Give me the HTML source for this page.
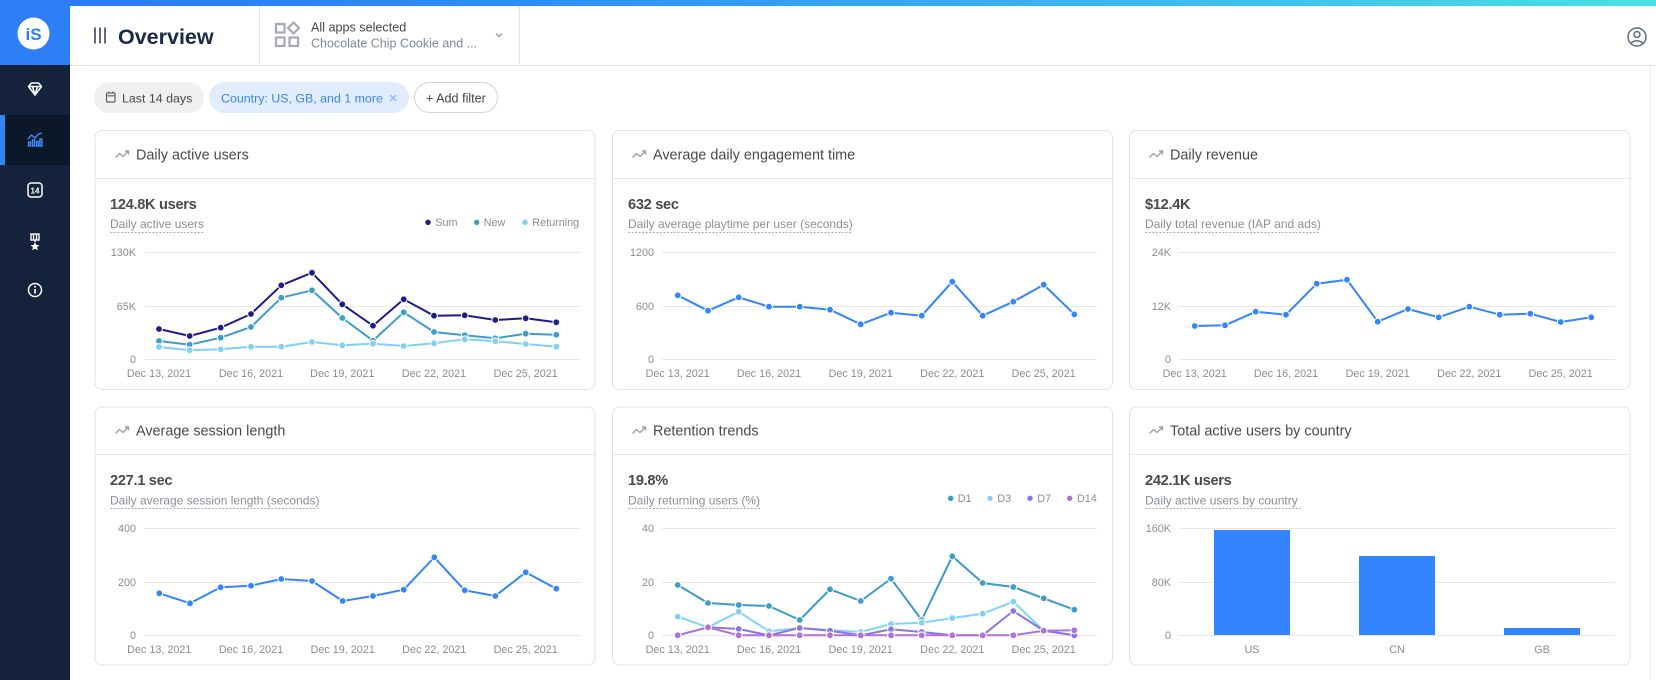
<!DOCTYPE html>
<html><head><meta charset="utf-8"><style>
html,body{margin:0;padding:0;background:#fff;width:1656px;height:680px;overflow:hidden}
svg{display:block}
text{font-family:"Liberation Sans",Arial,sans-serif}
</style></head><body>
<svg width="1656" height="680" viewBox="0 0 1656 680" xmlns="http://www.w3.org/2000/svg">
<defs>
<linearGradient id="tg" x1="0" y1="0" x2="1" y2="0">
<stop offset="0" stop-color="#2a78f5"/><stop offset="0.33" stop-color="#2f8ff5"/><stop offset="0.66" stop-color="#3ab6ee"/><stop offset="1" stop-color="#4be0e4"/>
</linearGradient>
<marker id="mB" markerWidth="10" markerHeight="10" refX="5" refY="5" markerUnits="userSpaceOnUse"><circle cx="5" cy="5" r="3.4" fill="#3385ff" stroke="#fff" stroke-width="1"/></marker>
<marker id="mS" markerWidth="10" markerHeight="10" refX="5" refY="5" markerUnits="userSpaceOnUse"><circle cx="5" cy="5" r="3.4" fill="#1c1c8c" stroke="#fff" stroke-width="1"/></marker>
<marker id="mN" markerWidth="10" markerHeight="10" refX="5" refY="5" markerUnits="userSpaceOnUse"><circle cx="5" cy="5" r="3.4" fill="#3d9dca" stroke="#fff" stroke-width="1"/></marker>
<marker id="mR" markerWidth="10" markerHeight="10" refX="5" refY="5" markerUnits="userSpaceOnUse"><circle cx="5" cy="5" r="3.4" fill="#7fd0f7" stroke="#fff" stroke-width="1"/></marker>
<marker id="m7" markerWidth="10" markerHeight="10" refX="5" refY="5" markerUnits="userSpaceOnUse"><circle cx="5" cy="5" r="3.4" fill="#8c74e8" stroke="#fff" stroke-width="1"/></marker>
<marker id="m14" markerWidth="10" markerHeight="10" refX="5" refY="5" markerUnits="userSpaceOnUse"><circle cx="5" cy="5" r="3.4" fill="#b171dc" stroke="#fff" stroke-width="1"/></marker>
</defs>

<!-- top gradient & header -->
<rect x="0" y="0" width="1656" height="6" fill="url(#tg)"/>
<line x1="70" y1="65.5" x2="1656" y2="65.5" stroke="#e4e4e4" stroke-width="1"/>
<line x1="259.5" y1="6" x2="259.5" y2="66" stroke="#e6e6e6"/>
<line x1="519.5" y1="6" x2="519.5" y2="66" stroke="#e6e6e6"/>
<line x1="1650.5" y1="66" x2="1650.5" y2="680" stroke="#ebebeb"/>

<!-- sidebar -->
<rect x="0" y="0" width="70" height="680" fill="#14233b"/>
<rect x="0" y="0" width="70" height="65" fill="#2e7ff6"/>
<circle cx="33.5" cy="33.5" r="16" fill="#fff"/>
<text x="33.5" y="40" font-size="17" font-weight="bold" fill="#2e7ff6" text-anchor="middle">iS</text>
<rect x="0" y="115" width="70" height="50" fill="#0c1729"/>
<rect x="0" y="115" width="5" height="50" fill="#2f86f5"/>
<!-- diamond -->
<g fill="none" stroke="#fff" stroke-width="1.5" stroke-linejoin="round">
<polygon points="28.5,86.5 31.5,83 38.5,83 41.5,86.5 35,95"/>
<line x1="28.5" y1="86.5" x2="41.5" y2="86.5"/>
<polyline points="32.5,86.5 35,95 37.5,86.5"/>
</g>
<!-- chart icon -->
<g fill="none" stroke="#3a8ef6" stroke-width="1.4">
<polyline points="28,139 31.5,135 35,138 38.5,134 42,133"/>
<rect x="28.5" y="142" width="2" height="4"/><rect x="32.5" y="140" width="2" height="6"/><rect x="36.5" y="141.5" width="2" height="4.5"/><rect x="40" y="139" width="2" height="7"/>
</g>
<!-- 14 -->
<rect x="28" y="183" width="14" height="14" rx="3" fill="none" stroke="#fff" stroke-width="1.5"/>
<text x="35" y="193.5" font-size="8" font-weight="bold" fill="#fff" text-anchor="middle">14</text>
<!-- medal -->
<g fill="none" stroke="#fff" stroke-width="1.4">
<rect x="31" y="234" width="8" height="6"/>
<line x1="33.5" y1="234" x2="33.5" y2="240"/><line x1="36.5" y1="234" x2="36.5" y2="240"/>
<line x1="35" y1="240" x2="35" y2="242"/>
</g>
<polygon points="35,242 36.3,245 39.5,245.2 37,247.2 37.9,250.3 35,248.6 32.1,250.3 33,247.2 30.5,245.2 33.7,245" fill="#fff"/>
<!-- info -->
<circle cx="35" cy="290" r="6.5" fill="none" stroke="#fff" stroke-width="1.5"/>
<rect x="34.2" y="289" width="1.7" height="4.5" fill="#fff"/><circle cx="35" cy="286.8" r="1" fill="#fff"/>

<!-- header content -->
<g stroke="#3a4560" stroke-width="1.6">
<line x1="95" y1="27.5" x2="95" y2="43.5"/><line x1="100" y1="27.5" x2="100" y2="43.5"/><line x1="105" y1="27.5" x2="105" y2="43.5"/>
</g>
<text x="118" y="44" font-size="21.5" font-weight="bold" fill="#1c2a48">Overview</text>
<g fill="none" stroke="#a5a9b0" stroke-width="2.2">
<rect x="276" y="24" width="8.5" height="8.5"/>
<polygon points="293.5,22.5 299,28 293.5,33.5 288,28"/>
<rect x="276" y="37.5" width="8.5" height="8.5"/>
<rect x="289.5" y="37.5" width="8.5" height="8.5"/>
</g>
<text x="311" y="31.5" font-size="12.6" fill="#444">All apps selected</text>
<text x="311" y="47.5" font-size="12.5" fill="#80878f">Chocolate Chip Cookie and ...</text>
<polyline points="496,33.5 499,36.5 502,33.5" fill="none" stroke="#9a9a9a" stroke-width="1.3"/>
<g fill="none" stroke="#5a6b85" stroke-width="1.5">
<circle cx="1637" cy="37" r="9"/>
<circle cx="1637" cy="34.5" r="3"/>
<path d="M1630.5,43.5 Q1637,38 1643.5,43.5"/>
</g>

<!-- chips -->
<rect x="94" y="82" width="110" height="31" rx="15.5" fill="#eff0f2"/>
<g fill="none" stroke="#666" stroke-width="1.2">
<rect x="106.5" y="93" width="8.5" height="9" rx="1"/>
<line x1="106.5" y1="95.8" x2="115" y2="95.8"/>
<line x1="108.8" y1="91.5" x2="108.8" y2="93.5"/><line x1="112.7" y1="91.5" x2="112.7" y2="93.5"/>
</g>
<text x="122" y="102.5" font-size="12.4" fill="#4a4a4a">Last 14 days</text>
<rect x="209" y="82" width="200" height="31" rx="15.5" fill="#e1ecfd"/>
<text x="221" y="102.5" font-size="12.4" fill="#3a86f2">Country: US, GB, and 1 more</text>
<g stroke="#8fb8f6" stroke-width="1.5"><line x1="390" y1="95" x2="396" y2="101"/><line x1="396" y1="95" x2="390" y2="101"/></g>
<rect x="414.5" y="82.5" width="83" height="30" rx="15" fill="#fff" stroke="#d4d4d4"/>
<text x="426" y="102.5" font-size="12.6" fill="#444">+ Add filter</text>

<!-- cards -->
<g fill="#fff" stroke="#e3e3e3" stroke-width="1">
<rect x="95" y="130.5" width="500" height="259" rx="7"/>
<rect x="612.5" y="130.5" width="500" height="259" rx="7"/>
<rect x="1129.5" y="130.5" width="500.5" height="259" rx="7"/>
<rect x="95" y="407" width="500" height="258" rx="7"/>
<rect x="612.5" y="407" width="500" height="258" rx="7"/>
<rect x="1129.5" y="407" width="500.5" height="258" rx="7"/>
</g>
<g stroke="#e6e6e6" stroke-width="1">
<line x1="95" y1="178.5" x2="595" y2="178.5"/><line x1="612.5" y1="178.5" x2="1112.5" y2="178.5"/><line x1="1129.5" y1="178.5" x2="1630" y2="178.5"/>
<line x1="95" y1="454.5" x2="595" y2="454.5"/><line x1="612.5" y1="454.5" x2="1112.5" y2="454.5"/><line x1="1129.5" y1="454.5" x2="1630" y2="454.5"/>
</g>

<!-- trend icons -->
<g fill="none" stroke="#9ca0a6" stroke-width="1.4" stroke-linejoin="round">
<path d="M115.5,157.5 L119.5,153.5 L123,156.5 L128.5,151 M125,151 L128.5,151 L128.5,154.5"/>
<path d="M632.5,157.5 L636.5,153.5 L640,156.5 L645.5,151 M642,151 L645.5,151 L645.5,154.5"/>
<path d="M1149.5,157.5 L1153.5,153.5 L1157,156.5 L1162.5,151 M1159,151 L1162.5,151 L1162.5,154.5"/>
<path d="M115.5,433.5 L119.5,429.5 L123,432.5 L128.5,427 M125,427 L128.5,427 L128.5,430.5"/>
<path d="M632.5,433.5 L636.5,429.5 L640,432.5 L645.5,427 M642,427 L645.5,427 L645.5,430.5"/>
<path d="M1149.5,433.5 L1153.5,429.5 L1157,432.5 L1162.5,427 M1159,427 L1162.5,427 L1162.5,430.5"/>
</g>

<!-- titles -->
<g font-size="14.4" fill="#4a4a4a">
<text x="136" y="159.5">Daily active users</text>
<text x="653" y="159.5">Average daily engagement time</text>
<text x="1170" y="159.5">Daily revenue</text>
<text x="136" y="435.5">Average session length</text>
<text x="653" y="435.5">Retention trends</text>
<text x="1170" y="435.5">Total active users by country</text>
</g>
<g font-size="14.6" font-weight="bold" fill="#4a4a4a" letter-spacing="-0.3">
<text x="110" y="209.2">124.8K users</text>
<text x="628" y="209.2">632 sec</text>
<text x="1145" y="209.2">$12.4K</text>
<text x="110" y="485.2">227.1 sec</text>
<text x="628" y="485.2">19.8%</text>
<text x="1145" y="485.2">242.1K users</text>
</g>
<g font-size="12" fill="#8a8f99">
<text x="110" y="228">Daily active users</text>
<text x="628" y="228">Daily average playtime per user (seconds)</text>
<text x="1145" y="228">Daily total revenue (IAP and ads)</text>
<text x="110" y="504.3">Daily average session length (seconds)</text>
<text x="628" y="504.3">Daily returning users (%)</text>
<text x="1145" y="504.3">Daily active users by country</text>
</g>
<g stroke="#aaa" stroke-width="1" stroke-dasharray="2,1.5">
<line x1="110.3" y1="232.5" x2="204.7" y2="232.5"/>
<line x1="628.3" y1="232.5" x2="852.3" y2="232.5"/>
<line x1="1145.3" y1="232.5" x2="1320.3" y2="232.5"/>
<line x1="110.3" y1="508.5" x2="318.7" y2="508.5"/>
<line x1="628.3" y1="508.5" x2="760" y2="508.5"/>
<line x1="1145.3" y1="508.5" x2="1301" y2="508.5"/>
</g>

<!-- legends -->
<g font-size="10.8" fill="#8c8c8c">
<circle cx="428" cy="222.3" r="2.7" fill="#1c1c8c"/><text x="435.3" y="226.2">Sum</text>
<circle cx="476.7" cy="222.3" r="2.7" fill="#3d9dca"/><text x="483.7" y="226.2">New</text>
<circle cx="525" cy="222.3" r="2.7" fill="#7fd0f7"/><text x="532.3" y="226.2">Returning</text>
<circle cx="950.7" cy="498.3" r="2.7" fill="#3a9acb"/><text x="957.7" y="502.2">D1</text>
<circle cx="990" cy="498.3" r="2.7" fill="#82d3f8"/><text x="997.3" y="502.2">D3</text>
<circle cx="1030" cy="498.3" r="2.7" fill="#8c74e8"/><text x="1037.3" y="502.2">D7</text>
<circle cx="1069.7" cy="498.3" r="2.7" fill="#b171dc"/><text x="1077" y="502.2">D14</text>
</g>

<!-- gridlines -->
<g stroke="#e8e8e8" stroke-width="1">
<line x1="145" y1="252.5" x2="580" y2="252.5"/><line x1="145" y1="306.5" x2="580" y2="306.5"/><line x1="145" y1="359.5" x2="580" y2="359.5"/>
<line x1="662" y1="252.5" x2="1097" y2="252.5"/><line x1="662" y1="306.5" x2="1097" y2="306.5"/><line x1="662" y1="359.5" x2="1097" y2="359.5"/>
<line x1="1179" y1="252.5" x2="1615" y2="252.5"/><line x1="1179" y1="306.5" x2="1615" y2="306.5"/><line x1="1179" y1="359.5" x2="1615" y2="359.5"/>
<line x1="144" y1="528.5" x2="580" y2="528.5"/><line x1="144" y1="582.5" x2="580" y2="582.5"/><line x1="144" y1="635.5" x2="580" y2="635.5"/>
<line x1="662" y1="528.5" x2="1097" y2="528.5"/><line x1="662" y1="582.5" x2="1097" y2="582.5"/><line x1="662" y1="635.5" x2="1097" y2="635.5"/>
<line x1="1179" y1="528.5" x2="1615" y2="528.5"/><line x1="1179" y1="582.5" x2="1615" y2="582.5"/><line x1="1179" y1="635.5" x2="1615" y2="635.5"/>
</g>

<!-- y labels -->
<g font-size="10.8" fill="#8c8c8c" text-anchor="end">
<text x="136" y="256.2">130K</text><text x="136" y="310.2">65K</text><text x="136" y="363">0</text>
<text x="654" y="256.2">1200</text><text x="654" y="310.2">600</text><text x="654" y="363">0</text>
<text x="1171" y="256.2">24K</text><text x="1171" y="310.2">12K</text><text x="1171" y="363">0</text>
<text x="136" y="532.2">400</text><text x="136" y="586.2">200</text><text x="136" y="639.2">0</text>
<text x="654" y="532.2">40</text><text x="654" y="586.2">20</text><text x="654" y="639.2">0</text>
<text x="1171" y="532.2">160K</text><text x="1171" y="586.2">80K</text><text x="1171" y="639.2">0</text>
</g>

<!-- x labels -->
<g font-size="10.8" fill="#8c8c8c" text-anchor="middle">
<text x="159" y="377.2">Dec 13, 2021</text><text x="251" y="377.2">Dec 16, 2021</text><text x="342.3" y="377.2">Dec 19, 2021</text><text x="434" y="377.2">Dec 22, 2021</text><text x="525.7" y="377.2">Dec 25, 2021</text>
<text x="677.7" y="377.2">Dec 13, 2021</text><text x="769" y="377.2">Dec 16, 2021</text><text x="860.7" y="377.2">Dec 19, 2021</text><text x="952.3" y="377.2">Dec 22, 2021</text><text x="1043.7" y="377.2">Dec 25, 2021</text>
<text x="1194.7" y="377.2">Dec 13, 2021</text><text x="1286" y="377.2">Dec 16, 2021</text><text x="1377.7" y="377.2">Dec 19, 2021</text><text x="1469.3" y="377.2">Dec 22, 2021</text><text x="1560.7" y="377.2">Dec 25, 2021</text>
<text x="159.3" y="653.2">Dec 13, 2021</text><text x="251" y="653.2">Dec 16, 2021</text><text x="342.7" y="653.2">Dec 19, 2021</text><text x="434.3" y="653.2">Dec 22, 2021</text><text x="525.7" y="653.2">Dec 25, 2021</text>
<text x="677.7" y="653.2">Dec 13, 2021</text><text x="769" y="653.2">Dec 16, 2021</text><text x="860.7" y="653.2">Dec 19, 2021</text><text x="952.3" y="653.2">Dec 22, 2021</text><text x="1043.7" y="653.2">Dec 25, 2021</text>
<text x="1252" y="653.2">US</text><text x="1397" y="653.2">CN</text><text x="1542" y="653.2">GB</text>
</g>

<!-- series -->
<g fill="none" stroke-width="2" stroke-linejoin="round">
<polyline stroke="#1c1c8c" marker-start="url(#mS)" marker-mid="url(#mS)" marker-end="url(#mS)" points="159,329 189.7,336 220.7,327.7 251,314 281.3,285.3 312,272.7 342.3,304.3 373,325.7 403.7,299.3 434,315.7 464.7,315.3 495.3,320 525.7,318.3 556.3,322.3"/>
<polyline stroke="#3d9dca" marker-start="url(#mN)" marker-mid="url(#mN)" marker-end="url(#mN)" points="159,341 189.7,344.7 220.7,337.7 251,327 281.3,297.7 312,290.3 342.3,318 373,340.7 403.7,312.3 434,332 464.7,335.3 495.3,338.3 525.7,333.7 556.3,334.7"/>
<polyline stroke="#7fd0f7" marker-start="url(#mR)" marker-mid="url(#mR)" marker-end="url(#mR)" points="159,347 189.7,350.3 220.7,349.3 251,346.7 281.3,346.7 312,342 342.3,345.3 373,343.7 403.7,346 434,343.3 464.7,339.3 495.3,341.3 525.7,344 556.3,346.7"/>

<polyline stroke="#3385ff" marker-start="url(#mB)" marker-mid="url(#mB)" marker-end="url(#mB)" points="677.7,295.3 708,310.7 738.7,297.3 769,306.7 799.7,306.7 830,309.7 860.7,324.3 891,312.7 921.7,315.7 952.3,281.7 982.7,315.7 1013.3,301.7 1043.7,284.7 1074.3,314.3"/>
<polyline stroke="#3385ff" marker-start="url(#mB)" marker-mid="url(#mB)" marker-end="url(#mB)" points="1194.7,326 1225,325.3 1255.7,311.7 1286,314.7 1316.7,283.7 1347,279.7 1377.7,321.7 1408,309 1438.7,317.3 1469.3,306.7 1499.7,314.7 1530.3,313.7 1560.7,322 1591.3,317.3"/>
<polyline stroke="#3385ff" marker-start="url(#mB)" marker-mid="url(#mB)" marker-end="url(#mB)" points="159.3,593.3 190,603.3 220.7,587.3 251,585.7 281.3,579 312,581 342.7,601 373,596 403.7,589.7 434.3,557.3 464.7,590.3 495.3,596 525.7,572.3 556.3,588.7"/>

<polyline stroke="#3a9acb" marker-start="url(#mN)" marker-mid="url(#mN)" marker-end="url(#mN)" points="677.7,585 708,603 738.7,605 769,606 799.7,620 830,589.3 860.7,601 891,578.7 921.7,620 952.3,556.3 982.7,583 1013.3,587 1043.7,598.3 1074.3,609.7"/>
<polyline stroke="#82d3f8" marker-start="url(#mR)" marker-mid="url(#mR)" marker-end="url(#mR)" points="677.7,616.7 708,627.3 738.7,611.7 769,631.3 799.7,628 830,630 860.7,632 891,624 921.7,622.7 952.3,618 982.7,613.7 1013.3,601.7 1043.7,630.7 1074.3,635.3"/>
<polyline stroke="#8c74e8" marker-start="url(#m7)" marker-mid="url(#m7)" marker-end="url(#m7)" points="677.7,635.3 708,627.3 738.7,629 769,635.3 799.7,628 830,630.7 860.7,635.3 891,629.3 921.7,632 952.3,635.3 982.7,635.3 1013.3,611 1043.7,630.7 1074.3,635.3"/>
<polyline stroke="#b171dc" marker-start="url(#m14)" marker-mid="url(#m14)" marker-end="url(#m14)" points="677.7,635.3 708,627.3 738.7,635.3 769,635.3 799.7,635.3 830,635.3 860.7,635.3 891,635.3 921.7,635.3 952.3,635.3 982.7,635.3 1013.3,635.3 1043.7,630.7 1074.3,630.3"/>
</g>

<!-- bars -->
<g fill="#3385ff">
<rect x="1214" y="530" width="76" height="105"/>
<rect x="1359" y="556" width="76" height="79"/>
<rect x="1504" y="628" width="76" height="7"/>
</g>
</svg>
</body></html>
